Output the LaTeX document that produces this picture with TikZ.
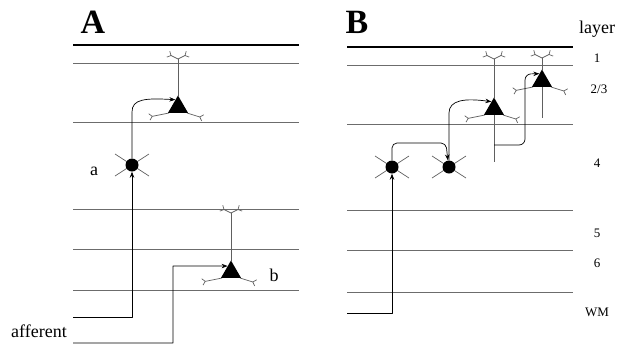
\documentclass[tikz,border=0pt]{standalone}
\usepackage{fontspec}
\setmainfont{Liberation Serif}
\usetikzlibrary{shapes.geometric,arrows.meta}

\begin{document}
\begin{tikzpicture}[x=1pt,y=-1pt,line join=round,>={Stealth[length=6pt,width=4.5pt]}]
	\tikzset{
		layerline/.style={gray!85!black,line width=0.7pt},
		dend/.style={gray!75!black,line width=0.7pt},
		axon/.style={black,line width=0.7pt},
		tipY/.style={-{Straight Barb[reversed,length=3pt,width=6.5pt]}},
		lab/.style={font=\fontsize{18}{18}\selectfont,inner sep=0pt},
		num/.style={font=\fontsize{13}{13}\selectfont,inner sep=0pt,anchor=base},
		pics/pyramid/.style={code={
			\draw[dend,tipY](-9,6)--(-29,10);
			\draw[dend,tipY](9,6)--(25,11);
			\draw[dend](0,-11)--(0,-11-#1);
			\draw[dend,tipY](0,-11-#1)--++(-10,-5);
			\draw[dend,tipY](0,-11-#1)--++(10,-5);
			\node[regular polygon,regular polygon sides=3,fill=black,inner sep=0pt,minimum size=23pt](-c) at (0,0){};
		}},
		pics/stellate/.style={code={
			\foreach \sx/\sy in {17/11,-17/11,17/-11,-17/-11}
			\draw[dend](0,0)--(\sx,\sy);
			\node[circle,fill=black,inner sep=0pt,minimum size=13pt](-c) at (0,0){};
		}}
	}
	\useasboundingbox (0,0) rectangle (631,346);
	% A
	\node[font=\bfseries\fontsize{34}{34}\selectfont,inner sep=0pt,anchor=base] (titA) at (93,33) {A};
	\draw[line width=1.8pt] (73,45)--(299,45);
	\foreach \y in {63,122,209,249,290}
	\draw[layerline] (73,\y)--(299,\y);
	\path (178,107) pic (pA) {pyramid=37};
	\path (132,165) pic (sA) {stellate};
	\path (231,272) pic (pAb) {pyramid=48};
	\node[lab,anchor=base] (la) at (94,175) {a};
	\node[lab,anchor=base] (lb) at (274,281) {b};
	\node[lab,anchor=base west] (laff) at (11,337) {afferent};
	\coordinate (inA) at (73,317);
	\coordinate (inAb) at (73,343);
	\draw[axon,->] (inA) -| (sA-c.south);
	\draw[axon,->] (sA-c.north) -- (132,112) .. controls (132,99) and (145,98) .. (pA-c.110);
	\draw[axon,->] (inAb) -| (173,266) -- (pAb-c.120);
	% B
	\node[font=\bfseries\fontsize{34}{34}\selectfont,inner sep=0pt,anchor=base] (titB) at (357,33) {B};
	\draw[line width=1.8pt] (347,47)--(573,47);
	\foreach \y in {65,124,210,250,292}
	\draw[layerline] (347,\y)--(573,\y);
	\path (494,109) pic (pB1) {pyramid=39};
	\path (542,81) pic (pB2) {pyramid=12};
	\draw[dend] (pB1-c.south) -- ++(0,47);
	\draw[dend] (pB2-c.south) -- ++(0,31);
	\path (392,167) pic (sB1) {stellate};
	\path (449,167) pic (sB2) {stellate};
	\coordinate (inB) at (347,313);
	\coordinate (axB1) at (494,145);
	\draw[axon,->] (inB) -| (sB1-c.south);
	\draw[axon,->,rounded corners=5pt] (sB1-c.north) |- (446,143) -- (sB2-c.100);
	\draw[axon,->] (sB2-c.north) -- (449,113) .. controls (449,100) and (465,98) .. (pB1-c.110);
	\draw[axon,->,rounded corners=6pt] (axB1) -| (525,74) -- (pB2-c.110);
	% layer labels
	\node[lab,anchor=base west] (lay) at (579,33) {layer};
	\node[num] (n1) at (597,62) {1};
	\node[num] (n23) at (599,93) {2/3};
	\node[num] (n4) at (597,167) {4};
	\node[num] (n5) at (597,237) {5};
	\node[num] (n6) at (597,267) {6};
	\node[num] (nwm) at (597,316) {WM};
\end{tikzpicture}
\end{document}
